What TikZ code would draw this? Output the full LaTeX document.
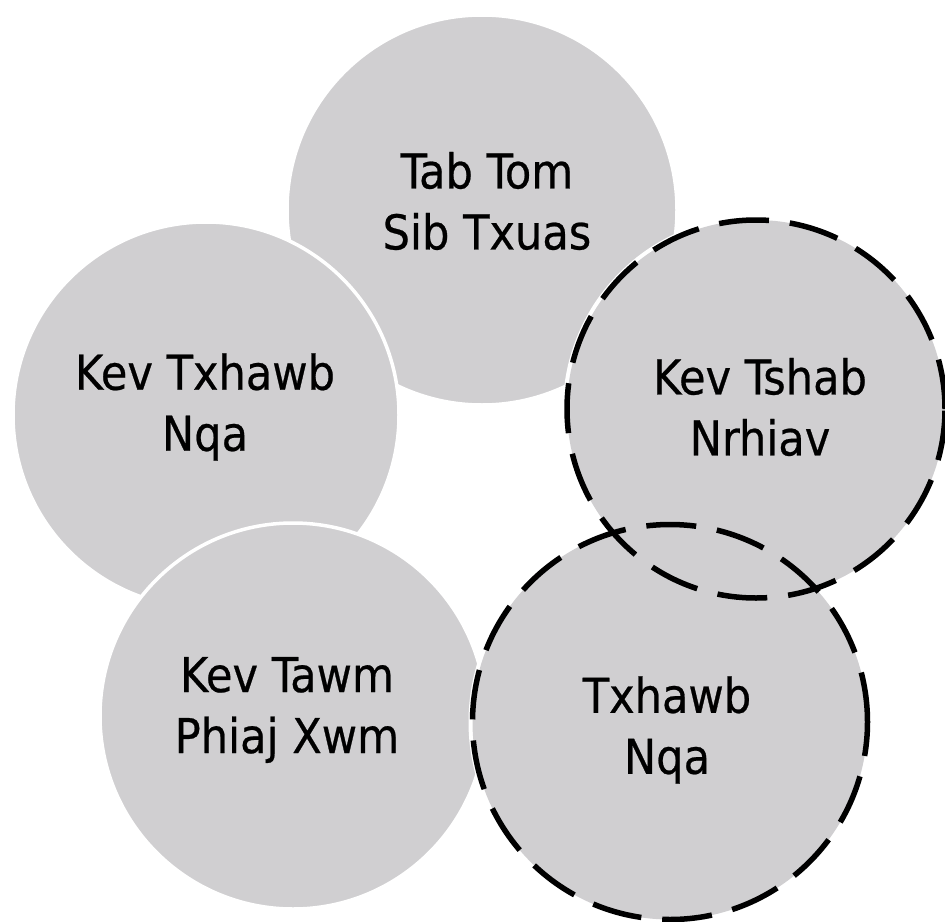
\documentclass[tikz,border=0pt]{standalone}
\usepackage{fontspec}
\setmainfont{DejaVu Sans Condensed}[FakeBold=0.5]
\definecolor{discgray}{RGB}{208,207,209}
\tikzset{
  disc/.style={circle, fill=discgray, draw=white, line width=3.5pt, inner sep=0pt},
  discfill/.style={circle, fill=discgray, draw=none, inner sep=0pt},
  whiterim/.style={circle, draw=white, line width=8pt, inner sep=0pt},
  dashrim/.style={circle, draw=black, line width=5.5pt, dash pattern=on 50pt off 21pt, inner sep=0pt},
  lbl/.style={font=\fontsize{48}{61}\selectfont, align=center, text=black}
}
\begin{document}
\begin{tikzpicture}[x=1pt,y=-1pt]
\useasboundingbox (0,0) rectangle (945,921);
% plain discs
\node[disc, minimum size=390pt] (T) at (482,210) {};
\node[disc, minimum size=386pt] (L) at (206,415) {};
\node[disc, minimum size=386pt] (BL) at (293,716) {};
% dashed discs: white rims, then fills, then dashes
\node[whiterim, minimum size=378pt] (Rw) at (756,409) {};
\node[whiterim, minimum size=395pt] (BRw) at (670,722) {};
\node[discfill, minimum size=378pt] (R) at (756,409) {};
\node[discfill, minimum size=395pt] (BR) at (670,722) {};
\node[dashrim, minimum size=378pt] (Rd) at (756,409) {};
\node[dashrim, minimum size=395pt] (BRd) at (670,722) {};
% labels
\node[lbl] (tT) at (487,201) {Tab Tom\\Sib Txuas};
\node[lbl] (tL) at (205,407) {Kev Txhawb\\Nqa};
\node[lbl] (tR) at (760,407) {Kev Tshab\\Nrhiav};
\node[lbl] (tBL) at (287,710) {Kev Tawm\\Phiaj Xwm};
\node[lbl] (tBR) at (667,730) {Txhawb\\Nqa};
\end{tikzpicture}
\end{document}
